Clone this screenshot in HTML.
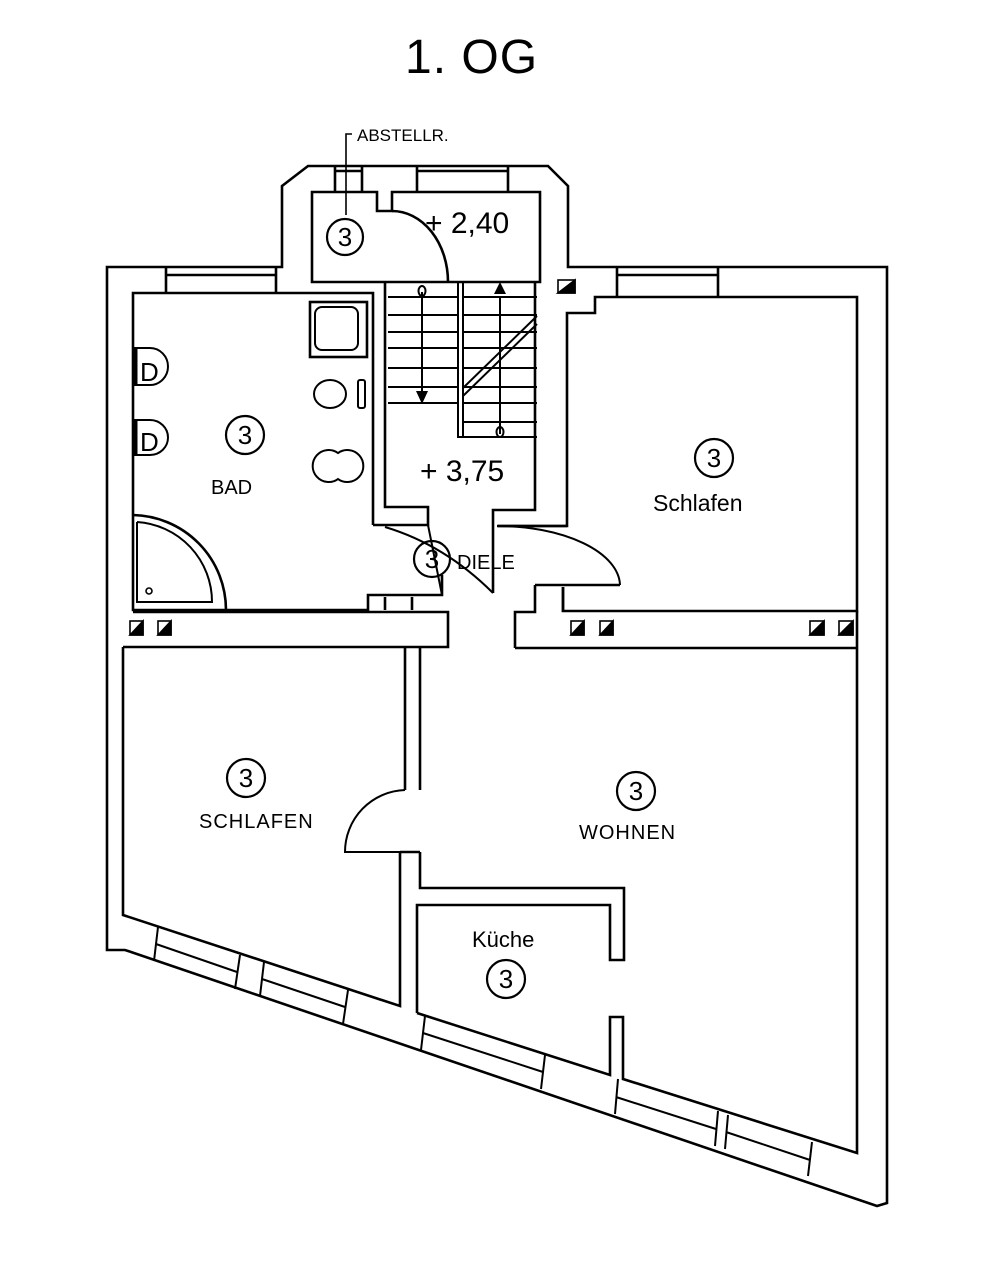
<!DOCTYPE html>
<html><head><meta charset="utf-8"><style>
html,body{margin:0;padding:0;background:#fff}
svg{display:block}
text{font-family:"Liberation Sans Narrow","Liberation Sans",sans-serif;fill:#000}
</style></head><body>
<svg width="990" height="1280" viewBox="0 0 990 1280" xmlns="http://www.w3.org/2000/svg">
<g fill="none" stroke="#000" stroke-width="2.6" stroke-linejoin="miter">
<path d="M107,267 H282 V186 L308,166 H548 L568,186 V267 H887 V1203 L877,1206 L125,950 H107 Z"/>
<path d="M377,192 H312 V282 H540 V192 H392 V211 H377 Z"/>
<path d="M335,166 V192 M362,166 V192 M335,171 H362 M417,166 V192 M508,166 V192 M417,171 H508"/>
<path d="M392,211 A56,71 0 0 1 448,282"/>
<path d="M352,134 H346 V215" stroke-width="1.6"/>
<path d="M373,525 V293 H133 V610 H368 V595 H442 V575"/>
<path d="M385,610 V597 M412,610 V597"/>
<path d="M166,267 V293 M276,267 V293 M166,275 H276"/>
<path d="M373,525 H428 V507 H385 V282"/>
<path d="M428,525 L442,595" stroke-width="2"/>
<path d="M385,527 Q445,545 493,593" stroke-width="2"/>
<path d="M493,593 V510 H535 V282"/>
<path d="M497,526 H567 V313 H595 V297 H857 V611 H563 V587 M535,585 H620"/>
<path d="M567,526 H498 M535,585 V612 H515 V648 M563,587 V612"/>
<path d="M497,526 A122,60 0 0 1 620,585" stroke-width="2"/>
<path d="M617,267 V297 M718,267 V297 M617,275 H718"/>
<path d="M360,612 H448 V647 H405 V790 M133,612 H360 M123,647 H405"/>
<path d="M515,648 H857"/>
<path d="M123,647 V915 L400,1006 V852"/>
<path d="M405,790 A62,62 0 0 0 345,852 H400" stroke-width="2"/>
<path d="M420,790 V648"/>
<path d="M420,852 V888 H624 V960 H610 V905 H417 V1013"/>
<path d="M400,852 H420"/>
<path d="M857,611 V1153 L623,1079 V1017 H610 V1075 L417,1013"/>
<g stroke-width="2">
<path d="M388,297 H458 M388,315 H458 M388,332 H458 M388,348 H458 M388,368 H458 M388,387 H458 M388,403 H458"/>
<path d="M463,297 H537 M463,315 H537 M463,332 H537 M463,348 H537 M463,368 H537 M463,387 H537 M463,403 H537 M463,422 H537 M463,437 H537"/>
<path d="M458,282 V437 H463 V282"/>
<path d="M463,388 L537,316 M463,396 L537,324"/>
<path d="M422,292 V396 M500,434 V296"/>
<ellipse cx="422" cy="291" rx="3.5" ry="5"/>
<ellipse cx="500" cy="432" rx="3.5" ry="5"/>
</g>
<path d="M416,391 H428 L422,404 Z M494,294 H506 L500,282 Z" fill="#000" stroke="none"/>
<rect x="310" y="302" width="57" height="55"/>
<rect x="315" y="307" width="43" height="43" rx="7" stroke-width="2"/>
<ellipse cx="330" cy="394" rx="16" ry="14" stroke-width="2"/>
<rect x="358" y="380" width="7" height="28" rx="2" stroke-width="2"/>
<path d="M338,453 A16,16 0 1 0 338,479 A16,16 0 1 0 338,453 Z" stroke-width="2"/>
<path d="M135,348 H150 A18,18.5 0 0 1 150,385 H135 Z M135,420 H150 A18,17.5 0 0 1 150,455 H135 Z" stroke-width="2"/>
<path d="M135,348 V385 M135,420 V455" stroke-width="5"/>
<path d="M133,515 A95,95 0 0 1 226,610"/>
<path d="M137,522 V602 H212 A80,80 0 0 0 137,522" stroke-width="2"/>
<circle cx="149" cy="591" r="3" stroke-width="1.6"/>
<g stroke-width="2.2">
<circle cx="345" cy="237" r="18"/><circle cx="245" cy="435" r="19"/>
<circle cx="714" cy="458" r="19"/><circle cx="432" cy="559" r="18"/>
<circle cx="246" cy="778" r="19"/><circle cx="636" cy="791" r="19"/>
<circle cx="506" cy="979" r="19"/>
</g>
<g stroke-width="2">
<path d="M158,927 L154,961 M240,955 L235,989 M156,944 L237,972"/>
<path d="M264,962 L260,996 M348,990 L343,1024 M262,979 L345,1007"/>
<path d="M425,1016 L421,1050 M545,1055 L541,1089 M423,1033 L543,1072"/>
<path d="M618,1079 L615,1114 M718,1111 L715,1146 M616,1097 L716,1129"/>
<path d="M728,1115 L725,1149 M812,1142 L808,1176 M726,1132 L810,1160"/>
</g>
</g>
<g fill="#000" stroke="#000" stroke-width="1.6">
<g fill="#fff"><rect x="130" y="621" width="13" height="14"/><rect x="158" y="621" width="13" height="14"/><rect x="571" y="621" width="13" height="14"/><rect x="600" y="621" width="13" height="14"/><rect x="810" y="621" width="14" height="14"/><rect x="839" y="621" width="14" height="14"/><rect x="558" y="280" width="17" height="13"/></g>
<path d="M130,635 L143,621 V635 Z M158,635 L171,621 V635 Z M571,635 L584,621 V635 Z M600,635 L613,621 V635 Z M810,635 L824,621 V635 Z M839,635 L853,621 V635 Z M558,293 L575,280 V293 Z"/>
</g>
<text x="405" y="73" font-size="48" letter-spacing="1">1. OG</text>
<text x="357" y="141" font-size="17">ABSTELLR.</text>
<text x="425" y="233" font-size="30">+ 2,40</text>
<text x="420" y="481" font-size="30">+ 3,75</text>
<text x="245" y="444" font-size="26" text-anchor="middle">3</text>
<text x="345" y="246" font-size="26" text-anchor="middle">3</text>
<text x="714" y="467" font-size="26" text-anchor="middle">3</text>
<text x="432" y="568" font-size="26" text-anchor="middle">3</text>
<text x="246" y="787" font-size="26" text-anchor="middle">3</text>
<text x="636" y="800" font-size="26" text-anchor="middle">3</text>
<text x="506" y="988" font-size="26" text-anchor="middle">3</text>
<text x="211" y="494" font-size="20">BAD</text>
<text x="653" y="511" font-size="23" style="font-family:'Liberation Sans',sans-serif">Schlafen</text>
<text x="457" y="569" font-size="20">DIELE</text>
<text x="199" y="828" font-size="20" letter-spacing="1">SCHLAFEN</text>
<text x="579" y="839" font-size="20" letter-spacing="1">WOHNEN</text>
<text x="472" y="947" font-size="22" style="font-family:'Liberation Sans',sans-serif">Küche</text>
<text x="140" y="381" font-size="26">D</text>
<text x="140" y="451" font-size="26">D</text>
</svg>
</body></html>
